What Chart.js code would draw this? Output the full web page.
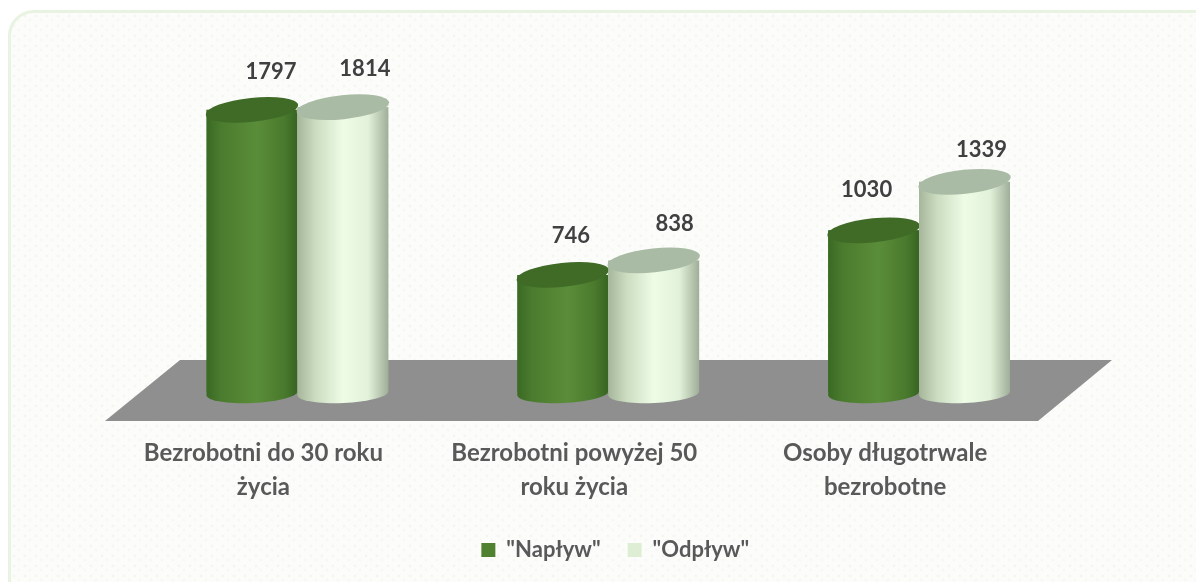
<!DOCTYPE html>
<html lang="pl">
<head>
<meta charset="utf-8">
<style>
html,body{margin:0;padding:0;background:#fff;width:1196px;height:582px;overflow:hidden}
#panel{position:absolute;left:8px;top:10px;width:1220px;height:600px;box-sizing:border-box;
border:3px solid #e8f3e1;border-radius:26px;
background-color:#fcfdfb;
background-image:radial-gradient(circle at 3px 3px,#f4f6f1 1.3px,transparent 1.7px),radial-gradient(circle at 8px 7px,#f6f8f4 1.3px,transparent 1.7px);
background-size:11px 10px}
canvas{position:absolute;left:0;top:0}
</style>
<script src="https://cdn.jsdelivr.net/npm/chart.js@4"></script>
</head>
<body>
<div id="panel"></div>
<canvas id="c" width="1196" height="582"></canvas>
<script>
const categories = [["Bezrobotni do 30 roku","życia"],["Bezrobotni powyżej 50","roku życia"],["Osoby długotrwale","bezrobotne"]];
const seriesNames = ['"Napływ"','"Odpływ"'];
const naplyw = [1797,746,1030];
const odplyw = [1814,838,1339];
const labelNudge = [[[19,-38],[8,-39],[-7,-40]],[[22,-38],[21,-37],[17,-32]]];
const looks = [
  {swatch:"#4f8130",top:"#3f6b27",stops:[[0,"#3a6a23"],[0.16,"#4b7b2e"],[0.55,"#5a8d39"],[0.85,"#4a7a2d"],[1,"#376522"]]},
  {swatch:"#deeed4",top:"#a9bba4",stops:[[0,"#a5b69b"],[0.2,"#cbdcc0"],[0.5,"#eefce6"],[0.78,"#e2f1d9"],[1,"#9fae98"]]}
];
const TILT=-6*Math.PI/180, RY=11.5;
const FOOT_TILT=-2.5*Math.PI/180, FOOT_RY=9.5, FOOT_DROP=1.5;

function shaftPath(el,path){
  const half=el.width/2, cy=el.base+FOOT_DROP, dy=half*Math.tan(-FOOT_TILT);
  path.moveTo(el.x-half,el.y);path.lineTo(el.x+half,el.y);
  path.lineTo(el.x+half,cy-dy);path.lineTo(el.x-half,cy+dy);path.closePath();
  return path;
}

const cylinders={
  id:"cylinders",
  afterLayout(chart){
    const l=chart.legend; l.left+=7; l.right+=7; l.top-=11; l.bottom-=11;
  },
  afterDatasetsUpdate(chart){
    chart.data.datasets.forEach((d,i)=>{
      chart.getDatasetMeta(i).data.forEach(el=>{
        const x0=el.x-el.width/2,x1=el.x+el.width/2;
        const g=chart.ctx.createLinearGradient(x0,0,x1,0);
        looks[i].stops.forEach(s=>g.addColorStop(s[0],s[1]));
        el.options=Object.assign({},el.options,{backgroundColor:g});
      });
    });
  },
  beforeDatasetsDraw(chart){
    const {ctx,chartArea:a}=chart, b=a.bottom;
    ctx.save();ctx.fillStyle="#8f8f8f";ctx.beginPath();
    ctx.moveTo(a.left+38,b-32);ctx.lineTo(a.right+37.5,b-32);
    ctx.lineTo(a.right-36.5,b+29);ctx.lineTo(a.left-37,b+29);ctx.closePath();ctx.fill();ctx.restore();
    // series are layered left to right, so the later cylinder covers the earlier one
    chart.data.datasets.forEach((d,i)=>{
      const meta=chart.getDatasetMeta(i);
      const allShafts=new Path2D();
      meta.data.forEach(el=>{
        shaftPath(el,allShafts);
        ctx.save();ctx.fillStyle=el.options.backgroundColor;ctx.beginPath();
        ctx.ellipse(el.x,el.base+FOOT_DROP,el.width/2,FOOT_RY,FOOT_TILT,0,Math.PI*2);ctx.fill();
        ctx.fill(shaftPath(el,new Path2D()));ctx.restore();
      });
      ctx.save();ctx.clip(allShafts);meta.controller.draw();ctx.restore();
      meta.data.forEach(el=>{
        ctx.save();ctx.fillStyle=looks[i].top;ctx.beginPath();
        ctx.ellipse(el.x,el.y,el.width/2+1,RY+0.5,TILT,0,Math.PI*2);ctx.fill();ctx.restore();
      });
    });
    ctx.save();ctx.font='bold 22px Lato';ctx.fillStyle="#404040";ctx.textAlign="center";ctx.textBaseline="middle";
    chart.data.datasets.forEach((d,i)=>{
      chart.getDatasetMeta(i).data.forEach((el,j)=>{
        const n=labelNudge[i][j];
        ctx.fillText(String(d.data[j]),el.x+n[0],el.y+n[1]);
      });
    });
    ctx.restore();
    return false;
  }
};

new Chart(document.getElementById("c"),{
  type:"bar",
  data:{labels:categories,datasets:[
    {label:seriesNames[0],data:naplyw,backgroundColor:looks[0].swatch},
    {label:seriesNames[1],data:odplyw,backgroundColor:looks[1].swatch}
  ]},
  options:{
    responsive:false,animation:false,
    categoryPercentage:0.585,barPercentage:1,
    layout:{padding:{top:78,left:142,right:121.5,bottom:0}},
    scales:{
      x:{grid:{display:false},border:{display:false},
        afterFit(s){s.height=131;},
        ticks:{color:"#595959",padding:36,labelOffset:-34,maxRotation:0,autoSkip:false,font:{family:"Lato",weight:"bold",size:24,lineHeight:1.42}}},
      y:{display:false,min:0,max:2000}
    },
    plugins:{
      tooltip:{enabled:false},
      legend:{position:"bottom",labels:{
        boxWidth:14,boxHeight:14,padding:27,color:"#595959",font:{family:"Lato",size:22,weight:"bold"},
        generateLabels(){return seriesNames.map((t,i)=>({text:t,fillStyle:looks[i].swatch,strokeStyle:looks[i].swatch,lineWidth:0,datasetIndex:i,fontColor:"#595959"}));}
      }}
    }
  },
  plugins:[cylinders]
});
</script>
</body>
</html>
